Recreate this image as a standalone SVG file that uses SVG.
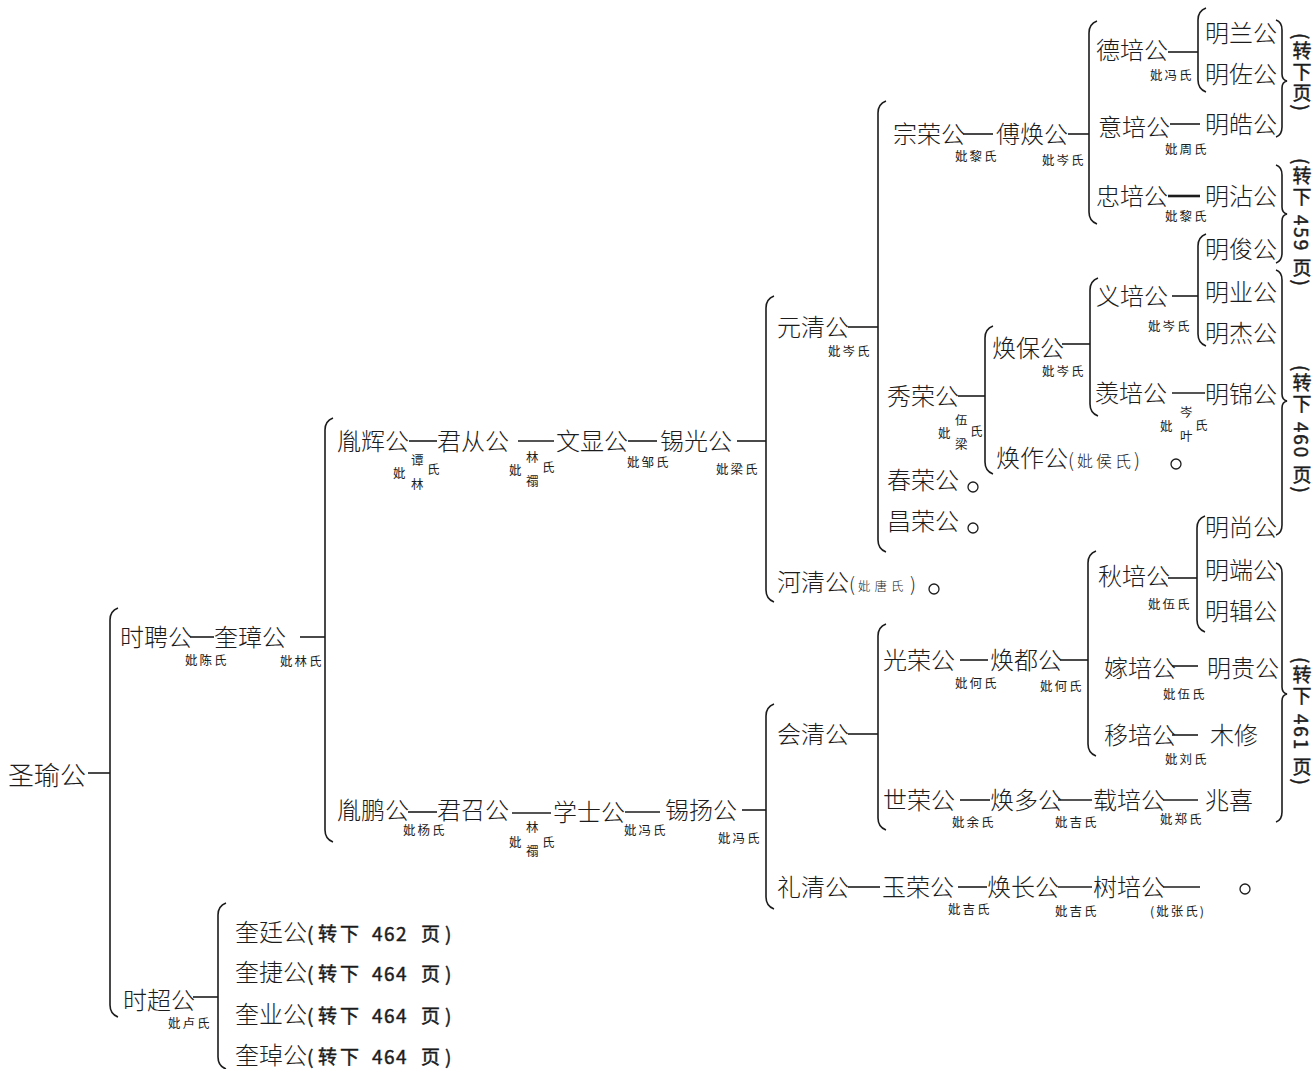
<svg xmlns="http://www.w3.org/2000/svg" width="1316" height="1069" viewBox="0 0 1316 1069">
<style>
text{font-family:"Noto Sans CJK SC","Noto Sans CJK TC",sans-serif;fill:#1c1c1c}
.n{font-size:24px;font-weight:300}
.w{font-size:12.5px;letter-spacing:2px}
.s{font-size:12.5px}
.v{font-size:19px;font-weight:normal;stroke:#1c1c1c;stroke-width:0.45;writing-mode:vertical-rl;letter-spacing:2px}
.p{font-size:19px;font-weight:normal;stroke:#1c1c1c;stroke-width:0.45}
.ln{stroke:#1c1c1c;stroke-width:1.6;fill:none}
.br{stroke:#1c1c1c;stroke-width:1.6;fill:none}
.o{stroke:#1c1c1c;stroke-width:1.3;fill:none}
</style>
<rect width="1316" height="1069" fill="#fff"/>

<g id="connectors">
<line class="ln" x1="88" y1="773" x2="110" y2="773"/>
<line class="ln" x1="190" y1="637" x2="214" y2="637"/>
<line class="ln" x1="300" y1="637" x2="325" y2="637"/>
<line class="ln" x1="193" y1="997" x2="218" y2="997"/>
<line class="ln" x1="409" y1="441" x2="437" y2="441"/>
<line class="ln" x1="518" y1="441" x2="554" y2="441"/>
<line class="ln" x1="628" y1="441" x2="657" y2="441"/>
<line class="ln" x1="737" y1="441" x2="766" y2="441"/>
<line class="ln" x1="408" y1="812" x2="437" y2="812"/>
<line class="ln" x1="512" y1="813" x2="551" y2="813"/>
<line class="ln" x1="625" y1="812" x2="660" y2="812"/>
<line class="ln" x1="742" y1="810" x2="766" y2="810"/>
<line class="ln" x1="848" y1="327" x2="878" y2="327"/>
<line class="ln" x1="963" y1="134" x2="993" y2="134"/>
<line class="ln" x1="1068" y1="134" x2="1089" y2="134"/>
<line class="ln" x1="1168" y1="52" x2="1198" y2="52"/>
<line class="ln" x1="1170" y1="124" x2="1200" y2="124"/>
<line class="ln" x1="1168" y1="196" x2="1200" y2="196" style="stroke-width:2.6"/>
<line class="ln" x1="958" y1="396" x2="985" y2="396"/>
<line class="ln" x1="1062" y1="344" x2="1090" y2="344"/>
<line class="ln" x1="1172" y1="296" x2="1198" y2="296"/>
<line class="ln" x1="1172" y1="393" x2="1205" y2="393"/>
<line class="ln" x1="848" y1="734" x2="878" y2="734"/>
<line class="ln" x1="960" y1="660" x2="988" y2="660"/>
<line class="ln" x1="1060" y1="660" x2="1088" y2="660"/>
<line class="ln" x1="1168" y1="578" x2="1197" y2="578"/>
<line class="ln" x1="1172" y1="666" x2="1198" y2="666"/>
<line class="ln" x1="1172" y1="735" x2="1198" y2="735"/>
<line class="ln" x1="960" y1="800" x2="990" y2="800"/>
<line class="ln" x1="1058" y1="800" x2="1092" y2="800"/>
<line class="ln" x1="1163" y1="800" x2="1198" y2="800"/>
<line class="ln" x1="848" y1="887" x2="880" y2="887"/>
<line class="ln" x1="958" y1="887" x2="987" y2="887"/>
<line class="ln" x1="1058" y1="887" x2="1092" y2="887"/>
<line class="ln" x1="1163" y1="887" x2="1200" y2="887"/>
<!-- left brackets -->
<path class="br" d="M118,608 Q110,611 110,620 L110,1005 Q110,1014 118,1017"/>
<path class="br" d="M333,418 Q325,421 325,430 L325,830 Q325,839 333,842"/>
<path class="br" d="M226,903 Q218,906 218,915 L218,1057 Q218,1066 226,1069"/>
<path class="br" d="M774,296 Q766,299 766,308 L766,590 Q766,599 774,602"/>
<path class="br" d="M774,704 Q766,707 766,716 L766,897 Q766,906 774,909"/>
<path class="br" d="M886,101 Q878,104 878,113 L878,540 Q878,549 886,552"/>
<path class="br" d="M1097,21 Q1089,24 1089,33 L1089,212 Q1089,221 1097,224"/>
<path class="br" d="M1206,8 Q1198,11 1198,20 L1198,80 Q1198,89 1206,92"/>
<path class="br" d="M993,326 Q985,329 985,338 L985,462 Q985,471 993,474"/>
<path class="br" d="M1098,278 Q1090,281 1090,290 L1090,404 Q1090,413 1098,416"/>
<path class="br" d="M1206,234 Q1198,237 1198,246 L1198,334 Q1198,343 1206,346"/>
<path class="br" d="M886,624 Q878,627 878,636 L878,818 Q878,827 886,830"/>
<path class="br" d="M1096,551 Q1088,554 1088,563 L1088,744 Q1088,753 1096,756"/>
<path class="br" d="M1205,516 Q1197,519 1197,528 L1197,620 Q1197,629 1205,632"/>
<!-- right braces -->
<path class="br" d="M1276,20 Q1282,22 1282,30 L1282,74 Q1282,80 1287,81 Q1282,82 1282,88 L1282,127 Q1282,135 1276,137"/>
<path class="br" d="M1276,165 Q1282,167 1282,175 L1282,207 Q1282,213 1287,214 Q1282,215 1282,221 L1282,253 Q1282,261 1276,263"/>
<path class="br" d="M1276,270 Q1282,272 1282,280 L1282,394 Q1282,400 1287,401 Q1282,402 1282,408 L1282,525 Q1282,533 1276,535"/>
<path class="br" d="M1276,563 Q1282,565 1282,573 L1282,687 Q1282,693 1287,694 Q1282,695 1282,701 L1282,812 Q1282,820 1276,822"/>
</g>

<g id="n-shengyu"><text class="n" x="8" y="785" style="font-size:26px">圣瑜公</text></g>
<g id="n-shipin"><text class="n" x="120" y="646">时聘公</text><text class="w" x="185" y="665">妣陈氏</text></g>
<g id="n-kuizhang"><text class="n" x="214" y="646">奎璋公</text><text class="w" x="280" y="666">妣林氏</text></g>
<g id="n-shichao"><text class="n" x="123" y="1009">时超公</text><text class="w" x="168" y="1028">妣卢氏</text></g>

<g id="n-yinhui"><text class="n" x="337" y="450">胤辉公</text>
<text class="s" x="393" y="478">妣</text><text class="s" x="411" y="465">谭</text><text class="s" x="411" y="489">林</text><text class="s" x="427" y="474">氏</text></g>
<g id="n-juncong"><text class="n" x="437" y="450">君从公</text>
<text class="s" x="509" y="475">妣</text><text class="s" x="526" y="462">林</text><text class="s" x="526" y="486">禤</text><text class="s" x="542" y="472">氏</text></g>
<g id="n-wenxian"><text class="n" x="556" y="450">文显公</text><text class="w" x="627" y="467">妣邹氏</text></g>
<g id="n-xiguang"><text class="n" x="660" y="450">锡光公</text><text class="w" x="716" y="474">妣梁氏</text></g>

<g id="n-yinpeng"><text class="n" x="337" y="819">胤鹏公</text><text class="w" x="403" y="835">妣杨氏</text></g>
<g id="n-junzhao"><text class="n" x="437" y="819">君召公</text>
<text class="s" x="509" y="847">妣</text><text class="s" x="526" y="832">林</text><text class="s" x="526" y="856">禤</text><text class="s" x="542" y="847">氏</text></g>
<g id="n-xueshi"><text class="n" x="553" y="821">学士公</text><text class="w" x="624" y="835">妣冯氏</text></g>
<g id="n-xiyang"><text class="n" x="665" y="819">锡扬公</text><text class="w" x="718" y="843">妣冯氏</text></g>

<g id="n-yuanqing"><text class="n" x="777" y="336">元清公</text><text class="w" x="828" y="356">妣岑氏</text></g>
<g id="n-heqing"><text class="n" x="777" y="591">河清公<tspan x="849" style="font-size:19px">(</tspan><tspan x="858" class="s" style="letter-spacing:4px">妣唐氏</tspan><tspan x="910" style="font-size:19px">)</tspan></text><circle class="o" cx="934" cy="589" r="5"/></g>
<g id="n-huiqing"><text class="n" x="777" y="743">会清公</text></g>
<g id="n-liqing"><text class="n" x="777" y="896">礼清公</text></g>

<g id="n-zongrong"><text class="n" x="893" y="143">宗荣公</text><text class="w" x="955" y="161">妣黎氏</text></g>
<g id="n-fuhuan"><text class="n" x="996" y="143">傅焕公</text><text class="w" x="1042" y="165">妣岑氏</text></g>
<g id="n-depei"><text class="n" x="1096" y="59">德培公</text><text class="w" x="1150" y="80">妣冯氏</text></g>
<g id="n-yipei"><text class="n" x="1098" y="136">意培公</text><text class="w" x="1165" y="154">妣周氏</text></g>
<g id="n-zhongpei"><text class="n" x="1096" y="205">忠培公</text><text class="w" x="1165" y="221">妣黎氏</text></g>
<g id="n-minglan"><text class="n" x="1205" y="42">明兰公</text></g>
<g id="n-mingzuo"><text class="n" x="1205" y="83">明佐公</text></g>
<g id="n-minghao"><text class="n" x="1205" y="133">明皓公</text></g>
<g id="n-mingzhan"><text class="n" x="1205" y="205">明沾公</text></g>

<g id="n-xiurong"><text class="n" x="887" y="405">秀荣公</text>
<text class="s" x="938" y="438">妣</text><text class="s" x="955" y="425">伍</text><text class="s" x="955" y="449">梁</text><text class="s" x="970" y="436">氏</text></g>
<g id="n-chunrong"><text class="n" x="887" y="489">春荣公</text><circle class="o" cx="973" cy="487" r="5"/></g>
<g id="n-changrong"><text class="n" x="887" y="530">昌荣公</text><circle class="o" cx="973" cy="528" r="5"/></g>
<g id="n-huanbao"><text class="n" x="992" y="357">焕保公</text><text class="w" x="1042" y="376">妣岑氏</text></g>
<g id="n-huanzuo"><text class="n" x="996" y="467">焕作公<tspan x="1068" style="font-size:19px">(</tspan><tspan x="1077" style="font-size:16px;letter-spacing:3px">妣侯氏</tspan><tspan x="1134" style="font-size:19px">)</tspan></text><circle class="o" cx="1176" cy="464" r="5"/></g>
<g id="n-yipei2"><text class="n" x="1096" y="305">义培公</text><text class="w" x="1148" y="331">妣岑氏</text></g>
<g id="n-xianpei"><text class="n" x="1095" y="402">羡培公</text>
<text class="s" x="1160" y="431">妣</text><text class="s" x="1180" y="417">岑</text><text class="s" x="1180" y="441">叶</text><text class="s" x="1195" y="430">氏</text></g>
<g id="n-mingjun"><text class="n" x="1205" y="258">明俊公</text></g>
<g id="n-mingye"><text class="n" x="1205" y="301">明业公</text></g>
<g id="n-mingjie"><text class="n" x="1205" y="342">明杰公</text></g>
<g id="n-mingjin"><text class="n" x="1205" y="403">明锦公</text></g>

<g id="n-guangrong"><text class="n" x="883" y="669">光荣公</text><text class="w" x="955" y="688">妣何氏</text></g>
<g id="n-huandu"><text class="n" x="990" y="669">焕都公</text><text class="w" x="1040" y="691">妣何氏</text></g>
<g id="n-qiupei"><text class="n" x="1098" y="585">秋培公</text><text class="w" x="1148" y="609">妣伍氏</text></g>
<g id="n-jiapei"><text class="n" x="1104" y="677">嫁培公</text><text class="w" x="1163" y="699">妣伍氏</text></g>
<g id="n-yipei3"><text class="n" x="1104" y="744">移培公</text><text class="w" x="1165" y="764">妣刘氏</text></g>
<g id="n-mingshang"><text class="n" x="1205" y="536">明尚公</text></g>
<g id="n-mingduan"><text class="n" x="1205" y="579">明端公</text></g>
<g id="n-mingji"><text class="n" x="1205" y="620">明辑公</text></g>
<g id="n-minggui"><text class="n" x="1207" y="677">明贵公</text></g>
<g id="n-muxiu"><text class="n" x="1210" y="744">木修</text></g>
<g id="n-shirong"><text class="n" x="883" y="809">世荣公</text><text class="w" x="952" y="827">妣余氏</text></g>
<g id="n-huanduo"><text class="n" x="990" y="809">焕多公</text><text class="w" x="1055" y="827">妣吉氏</text></g>
<g id="n-zaipei"><text class="n" x="1093" y="809">载培公</text><text class="w" x="1160" y="824">妣郑氏</text></g>
<g id="n-zhaoxi"><text class="n" x="1205" y="809">兆喜</text></g>
<g id="n-yurong"><text class="n" x="882" y="896">玉荣公</text><text class="w" x="948" y="914">妣吉氏</text></g>
<g id="n-huanchang"><text class="n" x="987" y="896">焕长公</text><text class="w" x="1055" y="916">妣吉氏</text></g>
<g id="n-shupei"><text class="n" x="1093" y="896">树培公</text><text class="w" x="1150" y="916">(妣张氏)</text><circle class="o" cx="1245" cy="889" r="5"/></g>

<g id="n-kuiting"><text class="n" x="235" y="941">奎廷公<tspan class="p" x="307">(</tspan><tspan class="p" x="318" style="letter-spacing:3px">转下</tspan><tspan class="p" x="372" style="letter-spacing:1.5px">462</tspan><tspan class="p" x="421">页</tspan><tspan class="p" x="445">)</tspan></text></g>
<g id="n-kuijie"><text class="n" x="235" y="981">奎捷公<tspan class="p" x="307">(</tspan><tspan class="p" x="318" style="letter-spacing:3px">转下</tspan><tspan class="p" x="372" style="letter-spacing:1.5px">464</tspan><tspan class="p" x="421">页</tspan><tspan class="p" x="445">)</tspan></text></g>
<g id="n-kuiye"><text class="n" x="235" y="1023">奎业公<tspan class="p" x="307">(</tspan><tspan class="p" x="318" style="letter-spacing:3px">转下</tspan><tspan class="p" x="372" style="letter-spacing:1.5px">464</tspan><tspan class="p" x="421">页</tspan><tspan class="p" x="445">)</tspan></text></g>
<g id="n-kuizhuo"><text class="n" x="235" y="1064">奎琸公<tspan class="p" x="307">(</tspan><tspan class="p" x="318" style="letter-spacing:3px">转下</tspan><tspan class="p" x="372" style="letter-spacing:1.5px">464</tspan><tspan class="p" x="421">页</tspan><tspan class="p" x="445">)</tspan></text></g>

<g id="labels-right">
<text class="v" x="1302" y="33">(转下页)</text>
<text class="v" x="1302" y="158">(转下 459 页)</text>
<text class="v" x="1302" y="365">(转下 460 页)</text>
<text class="v" x="1302" y="657">(转下 461 页)</text>
</g>
</svg>
